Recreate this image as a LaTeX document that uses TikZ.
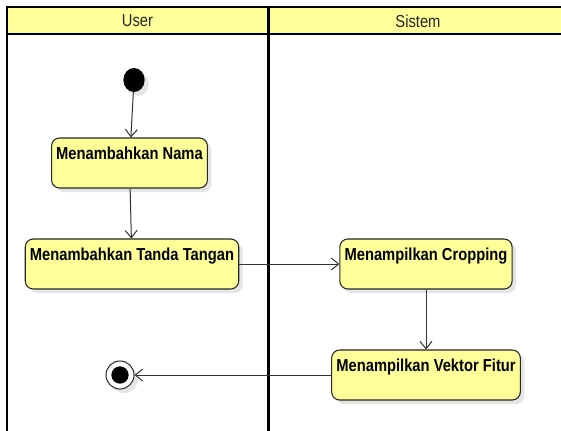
\documentclass[tikz,border=0pt]{standalone}
\usepackage{fontspec}
\setmainfont[FakeStretch=0.85]{Liberation Sans}
\usetikzlibrary{shapes, arrows.meta, positioning, shadows}

\definecolor{umlyellow}{RGB}{255,255,153}

\begin{document}
\begin{tikzpicture}[x=0.75pt, y=-0.75pt,
            font=\fontsize{13}{15}\selectfont,
            act/.style={draw=black!85, line width=0.8pt, rectangle, rounded corners=6pt, fill=umlyellow, font=\fontsize{13}{15}\selectfont\bfseries, inner xsep=3.5pt, inner ysep=0pt, text height=16pt, text depth=21.5pt, drop shadow={shadow xshift=3pt, shadow yshift=-3pt, fill=black!10, opacity=1}},
            flow/.style={-{Straight Barb[length=5.5pt, width=9pt]}, draw=black!80, line width=0.75pt}]
            \clip (0,0) rectangle (561,430);
            \fill[white] (0,0) rectangle (561,430);

            % swimlanes
            \fill[umlyellow] (7,7) rectangle (570,34);
            \draw[line width=1.2pt] (7,34) -- (570,34);
            \draw[line width=2pt] (6,7) -- (570,7);
            \draw[line width=1.5pt] (7,7) -- (7,440);
            \draw[line width=2.25pt] (268,7) -- (268,440);
            \node[text=black!85] (user) at (137.5,21) {User};
            \node[text=black!85] (sistem) at (418,21) {Sistem};

            \node[ellipse, fill=black, inner sep=0pt, minimum width=16pt, minimum height=18pt, drop shadow={shadow xshift=3pt, shadow yshift=-3pt, fill=black!10, opacity=1}] (start) at (134,80) {};
            \node[act] (nama) at (129.5,163) {Menambahkan Nama};
            \node[act] (tanda) at (132,264) {Menambahkan Tanda Tangan};
            \node[act] (crop) at (426,264) {Menampilkan Cropping};
            \node[act] (vektor) at (426,375) {Menampilkan Vektor Fitur};
            \node[circle, draw=black!80, line width=0.8pt, fill=white, inner sep=0pt, minimum size=21pt, drop shadow={shadow xshift=3pt, shadow yshift=-3pt, fill=black!10, opacity=1}] (end) at (120,375) {};
            \fill (end.center) circle[radius=6.5pt];

            \draw[flow] (start) -- (nama);
            \draw[flow] (nama) -- (tanda);
            \draw[flow] (tanda) -- (crop);
            \draw[flow] (crop) -- (vektor);
            \draw[flow] (vektor) -- (end);
        \end{tikzpicture}
\end{document}
